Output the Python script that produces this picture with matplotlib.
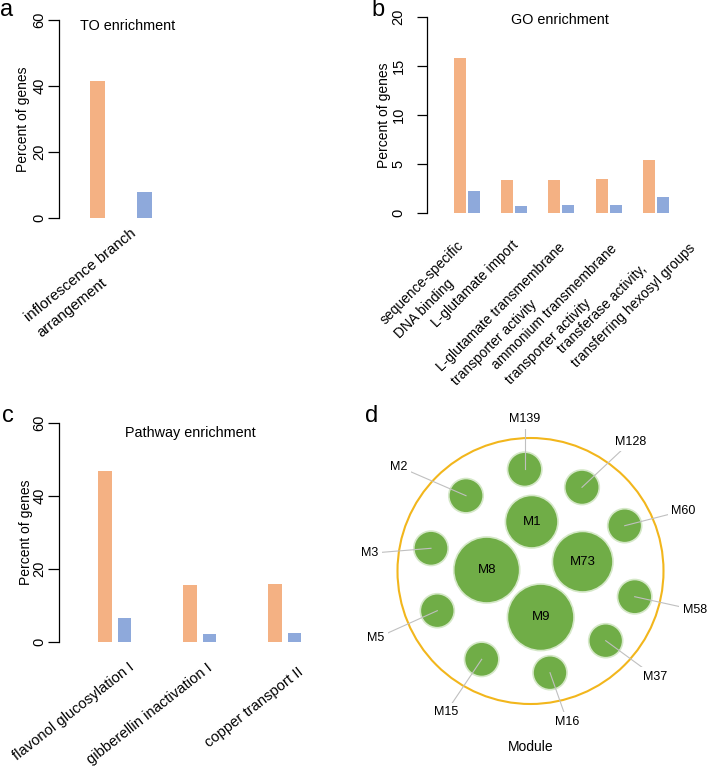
import numpy as np
import matplotlib
matplotlib.use("Agg")
import matplotlib.pyplot as plt
from matplotlib.patches import Circle
from matplotlib.transforms import offset_copy

plt.rcParams['font.family'] = ['Liberation Sans', 'DejaVu Sans']

ORANGE = '#F4B183'
BLUE = '#8EA9DB'
GREEN = '#70AD47'
GOLD = '#F2B61C'

# panel a: TO enrichment
to_terms = ['inflorescence branch\narrangement']
to_module = [41.5]
to_genome = [8.0]

# panel b: GO enrichment
go_terms = ['sequence-specific\nDNA binding', 'L-glutamate import',
            'L-glutamate transmembrane\ntransporter activity',
            'ammonium transmembrane\ntransporter activity',
            'transferase activity,\ntransferring hexosyl groups']
go_module = [15.8, 3.35, 3.4, 3.5, 5.45]
go_genome = [2.2, 0.75, 0.8, 0.85, 1.6]

# panel c: pathway enrichment
pw_terms = ['flavonol glucosylation I', 'gibberellin inactivation I',
            'copper transport II']
pw_module = [46.8, 15.5, 15.9]
pw_genome = [6.5, 2.0, 2.3]

# panel d: modules (circle radius and packing layout)
modules = ['M1', 'M8', 'M73', 'M9', 'M139', 'M128', 'M2', 'M60', 'M3',
           'M58', 'M5', 'M37', 'M15', 'M16']
mod_radius = [26.3, 33.0, 30.3, 33.3, 17.2, 17.3, 17.2, 17.0, 17.2,
              17.2, 17.0, 17.0, 17.2, 17.0]
mod_x = [1.2, -43.8, 52.2, 10.2, -5.8, 51.5, -64.5, 94.2, -99.5,
         104.2, -93.2, 75.2, -48.8, 19.5]
mod_y = [49.3, 1.0, 9.3, -46.3, 101.7, 83.7, 75.3, 45.3, 22.7,
         -25.7, -39.7, -69.7, -88.3, -101.7]
lab_x = [None, None, None, None, -5.8, 100.2, -131.5, 152.8, -160.5,
         164.5, -154.5, 124.5, -84.5, 36.8]
lab_y = [None, None, None, None, 151.7, 129.3, 104.3, 60.3, 17.7,
         -39.0, -67.3, -105.7, -141.3, -150.7]

W, H = 709, 766
fig = plt.figure(figsize=(W / 100, H / 100), dpi=100)


def px_axes(left, top, right, bottom):
    return fig.add_axes([left / W, 1 - bottom / H, (right - left) / W, (bottom - top) / H])


def bar_panel(ax, terms, v1, v2, unit, first, bw, off, ymax, ticks,
              ticklen, tickpad, title, title_xy, ylab_px, lab_dx, lab_dy,
              rot, lab_fs):
    x = np.arange(len(terms))
    ax.bar(x - off, v1, width=bw, color=ORANGE)
    ax.bar(x + off, v2, width=bw, color=BLUE)
    w_px = ax.get_position().width * W
    ax.set_xlim(-first / unit, -first / unit + w_px / unit)
    ax.set_ylim(0, ymax)
    for s in ['top', 'right', 'bottom']:
        ax.spines[s].set_visible(False)
    ax.spines['left'].set_linewidth(0.9)
    ax.set_xticks([])
    ax.set_yticks(ticks)
    ax.tick_params(axis='y', length=ticklen, width=0.9, pad=tickpad, labelsize=10.5)
    for t in ax.get_yticklabels():
        t.set_rotation(90)
        t.set_va('center')
    ax.set_ylabel('Percent of genes', fontsize=10)
    ax.yaxis.set_label_coords(ylab_px / w_px, 0.5)
    tx, ty = title_xy
    ax.text(tx / w_px, ty, title, transform=ax.transAxes, fontsize=10.4,
            ha='center', va='center')
    # category labels, anchored at their top-right corner (offsets in px)
    for i, t in enumerate(terms):
        tr = offset_copy(ax.get_xaxis_transform(), fig=fig,
                         x=lab_dx[i] * 0.72, y=-lab_dy[i] * 0.72, units='points')
        ax.text(i, 0, t, transform=tr, rotation=rot,
                rotation_mode='anchor', ha='right', va='top',
                multialignment='left', fontsize=lab_fs, linespacing=1.55)


# panel a
ax = px_axes(59, 20, 340, 218)
bar_panel(ax, to_terms, to_module, to_genome, 47.2, 62.25, 0.318, 0.503,
          60, [0, 20, 40, 60], 8, 1, 'TO enrichment', (68.5, 0.97), -29,
          [9], [8], 39, 10.8)

# panel b
ax = px_axes(427, 17, 700, 213)
bar_panel(ax, go_terms, go_module, go_genome, 47.2, 40, 0.254, 0.148,
          20, [0, 5, 10, 15, 20], 7.5, 8, 'GO enrichment', (133, 0.985), -36,
          [-10, -3, -3, 1, 18], [25, 25, 27, 29, 14], 45, 10)

# panel c
ax = px_axes(59, 423.3, 340, 641.7)
bar_panel(ax, pw_terms, pw_module, pw_genome, 85, 55.75, 0.159, 0.115,
          60, [0, 20, 40, 60], 8, 1, 'Pathway enrichment', (131, 0.955), -26,
          [13, 7, 13], [18, 19, 23], 38, 10.6)

# panel d
axd = fig.add_axes([360 / W, 0, 349 / W, 386 / H])
axd.set_xlim(-170.5, 178.5)
axd.set_ylim(-195, 191)
axd.axis('off')
axd.add_patch(Circle((0, 0), 133, fill=False, ec=GOLD, lw=1.5))
for i, m in enumerate(modules):
    axd.add_patch(Circle((mod_x[i], mod_y[i]), mod_radius[i], fc=GREEN,
                         ec='#D5E8C8', lw=1.2, zorder=2))
    if lab_x[i] is None:
        axd.text(mod_x[i], mod_y[i], m, ha='center', va='center',
                 fontsize=9.5, zorder=4)
    else:
        axd.plot([lab_x[i], mod_x[i]], [lab_y[i], mod_y[i]], color='#C0C0C0',
                 lw=0.8, zorder=3)
        axd.text(lab_x[i], lab_y[i], m, ha='center', va='center', fontsize=9,
                 zorder=5, bbox=dict(fc='white', ec='none', pad=2.5))
axd.text(0, -175.7, 'Module', ha='center', va='center', fontsize=10)

# panel letters
for letter, xp, yp in [('a', 7, 10), ('b', 378, 10), ('c', 8, 416), ('d', 371.5, 416)]:
    fig.text(xp / W, 1 - yp / H, letter, fontsize=17, ha='center', va='center')

fig.savefig('out.png', dpi=100)
